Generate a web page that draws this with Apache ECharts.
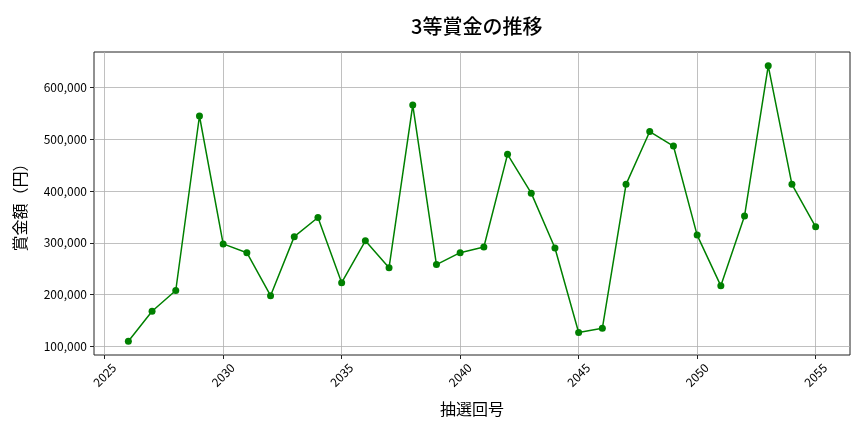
<!DOCTYPE html>
<html><head><meta charset="utf-8">
<script src="https://cdn.jsdelivr.net/npm/echarts@6/dist/echarts.min.js"></script>
<style>html,body{margin:0;padding:0;background:#fff}#c{width:864px;height:432px}</style>
</head><body><div id="c"></div>
<script>
const drawNumbers = [2026,2027,2028,2029,2030,2031,2032,2033,2034,2035,2036,2037,2038,2039,2040,2041,2042,2043,2044,2045,2046,2047,2048,2049,2050,2051,2052,2053,2054,2055];
const prizeValues = [110000,168000,208000,545000,298000,281000,198000,312000,349000,223000,304000,252000,566000,258000,281000,292000,471000,396000,290000,127000,135000,413000,515000,487000,315000,217000,352000,642000,413000,331000];
const xTicks = [2025,2030,2035,2040,2045,2050,2055];
const yTicks = [100000,200000,300000,400000,500000,600000];

const font = '"Noto Sans CJK JP", "Noto Sans", sans-serif';
const chart = echarts.init(document.getElementById('c'), null, {renderer:'canvas'});
chart.setOption({
  animation:false,
  backgroundColor:'#fff',
  title:{text:'3等賞金の推移',left:406,top:11,textStyle:{fontFamily:font,fontSize:20,fontWeight:500,color:'#000'}},
  grid:{left:94,right:14,top:52,bottom:77,show:true,borderColor:'#222',borderWidth:1,containLabel:false},
  xAxis:{type:'value',min:2024.55,max:2056.45,
    name:'抽選回号',nameLocation:'middle',nameGap:46,
    nameTextStyle:{fontFamily:font,fontSize:16,color:'#000'},
    axisLine:{show:false},
    axisTick:{show:true,inside:false,length:4,lineStyle:{color:'#222'},customValues:xTicks},
    axisLabel:{customValues:xTicks,rotate:45,align:'center',verticalAlign:'middle',fontFamily:font,fontSize:12,color:'#000',margin:20,
      formatter:v=>String(v)},
    splitLine:{show:true,lineStyle:{color:'#b0b0b0',width:0.8}}
  },
  yAxis:{type:'value',min:83400,max:668600,
    name:'賞金額（円）',nameLocation:'middle',nameGap:66,nameRotate:90,
    nameTextStyle:{fontFamily:font,fontSize:16,color:'#000'},
    axisLine:{show:false},
    axisTick:{show:true,inside:false,length:4,lineStyle:{color:'#222'},customValues:yTicks},
    axisLabel:{customValues:yTicks,fontFamily:font,fontSize:12,color:'#000',margin:7,
      formatter:v=>v.toLocaleString('en-US')},
    splitLine:{show:true,lineStyle:{color:'#b0b0b0',width:0.8}}
  },
  series:[{type:'line',data:drawNumbers.map((d,i)=>[d,prizeValues[i]]),
    color:'#008000',lineStyle:{color:'#008000',width:1.5},
    symbol:'circle',symbolSize:7,itemStyle:{color:'#008000'}}]
});
</script></body></html>
